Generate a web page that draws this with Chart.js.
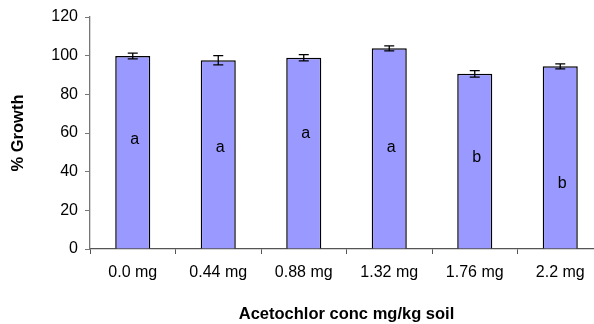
<!DOCTYPE html>
<html>
<head>
<meta charset="utf-8">
<script src="https://cdn.jsdelivr.net/npm/chart.js@4.4.0/dist/chart.umd.min.js"></script>
<style>
  html, body { margin: 0; padding: 0; background: #fff; overflow: hidden; }
  #wrap { width: 594px; height: 324px; overflow: hidden; }
</style>
</head>
<body>
<div id="wrap"><canvas id="graph" width="603" height="324"></canvas></div>
<script>
const doses = ['0.0 mg', '0.44 mg', '0.88 mg', '1.32 mg', '1.76 mg', '2.2 mg'];
const growth = [99.8, 97.6, 98.9, 103.8, 90.6, 94.5];
const stdErr = [1.5, 2.4, 1.6, 1.3, 1.7, 1.3];
const groups = ['a', 'a', 'a', 'a', 'b', 'b'];
const groupY = [56.5, 52.5, 59.5, 52.5, 47.5, 34.0];
const yTicks = [0, 20, 40, 60, 80, 100, 120];

const font = 'Liberation Sans, Arial, sans-serif';

// error bars + significance letters on top of the bars
const extras = {
  id: 'extras',
  afterDatasetsDraw(chart) {
    const ctx = chart.ctx;
    const x = chart.scales.x;
    const y = chart.scales.y;
    ctx.save();
    ctx.strokeStyle = '#000';
    ctx.lineWidth = 1.3;
    growth.forEach((v, i) => {
      const cx = x.getPixelForValue(i);
      const top = y.getPixelForValue(v + stdErr[i]);
      const bot = y.getPixelForValue(v - stdErr[i]);
      ctx.beginPath();
      ctx.moveTo(cx, top); ctx.lineTo(cx, bot);
      ctx.moveTo(cx - 5, top); ctx.lineTo(cx + 5, top);
      ctx.moveTo(cx - 5, bot); ctx.lineTo(cx + 5, bot);
      ctx.stroke();
    });
    ctx.fillStyle = '#000';
    ctx.font = '16px ' + font;
    ctx.textAlign = 'center';
    ctx.textBaseline = 'middle';
    groups.forEach((g, i) => {
      ctx.fillText(g, x.getPixelForValue(i) + 2, y.getPixelForValue(groupY[i]));
    });
    ctx.restore();
  }
};

const ctx = document.getElementById('graph').getContext('2d');
new Chart(ctx, {
  type: 'bar',
  data: {
    labels: doses,
    datasets: [{
      data: growth,
      backgroundColor: '#9999ff',
      borderColor: '#000',
      borderWidth: 1.5,
      categoryPercentage: 1,
      barPercentage: 0.41
    }]
  },
  options: {
    responsive: false,
    animation: false,
    layout: { padding: { top: 17, right: 0, bottom: 0, left: 0 } },
    plugins: { legend: { display: false }, tooltip: { enabled: false } },
    scales: {
      x: {
        grid: { drawOnChartArea: false, tickLength: 5, color: '#555', offset: true },
        border: { color: '#555', width: 1.3 },
        ticks: { color: '#000', font: { family: font, size: 16 }, padding: 9, maxRotation: 0 },
        title: {
          display: true,
          text: 'Acetochlor conc mg/kg soil',
          color: '#000',
          font: { family: font, size: 16.5, weight: 'bold' },
          padding: { top: 0, bottom: 0 }
        },
        afterFit(scale) { scale.height = 75; }
      },
      y: {
        min: 0,
        max: 120,
        afterBuildTicks(scale) { scale.ticks = yTicks.map(v => ({ value: v })); },
        grid: { drawOnChartArea: false, tickLength: 5, color: '#777' },
        border: { color: '#777', width: 1.3 },
        ticks: { color: '#000', font: { family: font, size: 16 }, padding: 7 },
        title: {
          display: true,
          text: '% Growth',
          color: '#000',
          font: { family: font, size: 16.5, weight: 'bold' },
          padding: { top: 9, bottom: 0 }
        },
        afterFit(scale) { scale.width = 90; }
      }
    }
  },
  plugins: [extras]
});
</script>
</body>
</html>
